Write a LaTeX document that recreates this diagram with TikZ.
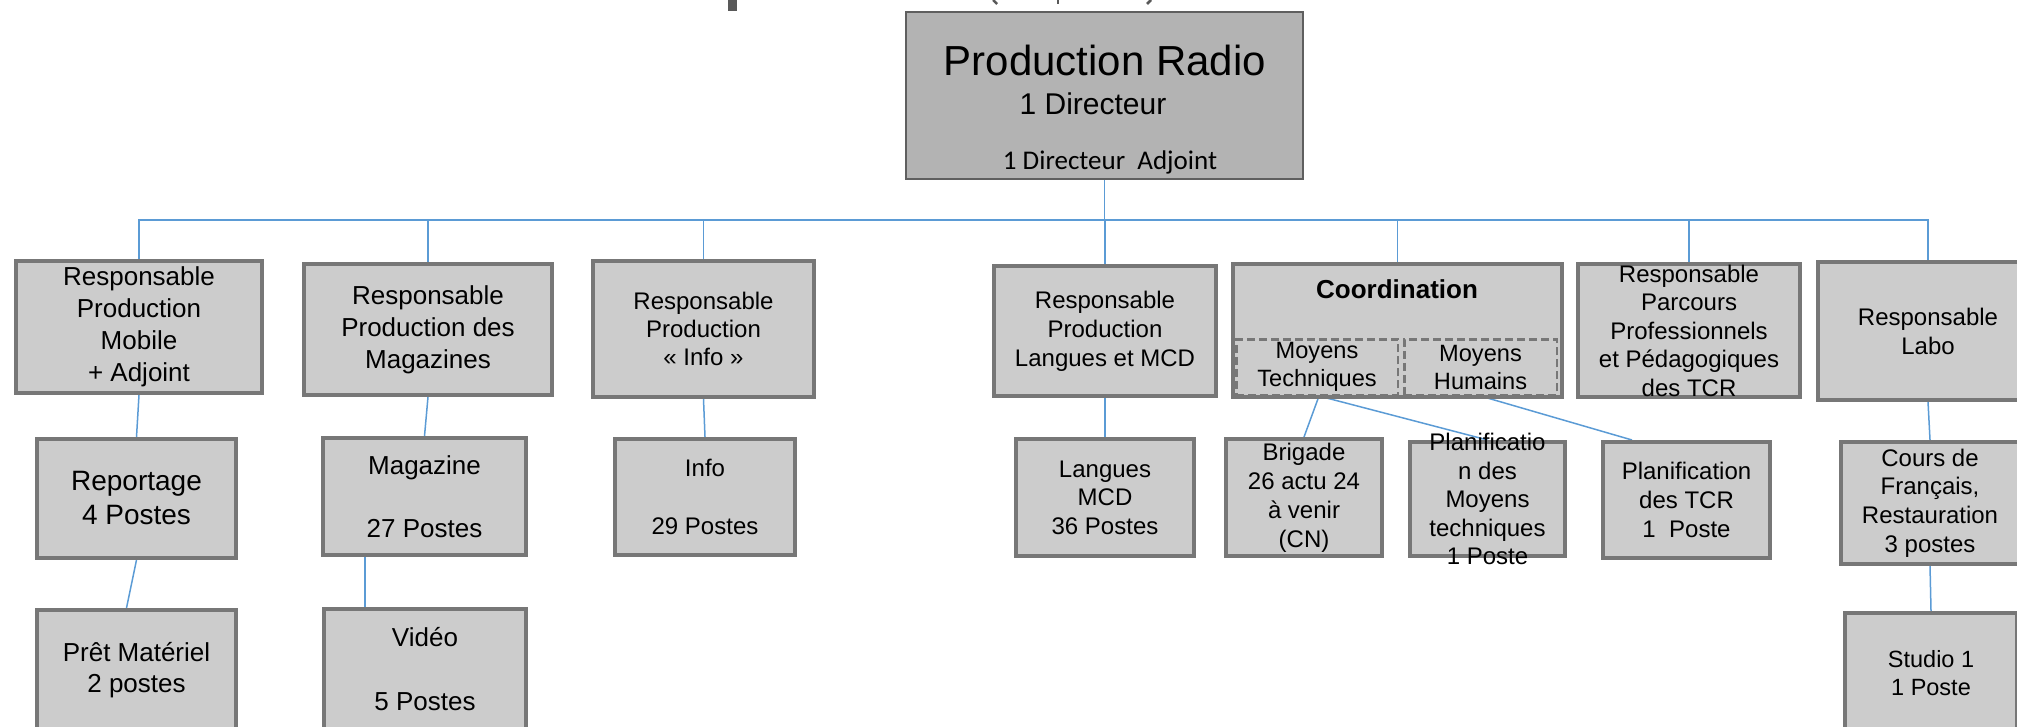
\documentclass[tikz,border=0pt]{standalone}
\usepackage{fontspec}
\setmainfont{Liberation Sans}
\newfontfamily\carlito{Carlito}
\usetikzlibrary{backgrounds}
\definecolor{boxfill}{HTML}{CCCCCC}
\definecolor{boxline}{HTML}{777777}
\definecolor{topfill}{HTML}{B3B3B3}
\definecolor{topline}{HTML}{5F5F5F}
\definecolor{connblue}{HTML}{5B9BD5}
\definecolor{titlegray}{HTML}{595959}
\newcommand\setfs[2]{\fontsize{#1}{#2}\selectfont}
\begin{document}
\begin{tikzpicture}[x=1pt,y=-1pt,
  box/.style={draw=boxline, fill=boxfill, line width=4pt, inner sep=0pt, align=center, text=black},
  dbox/.style={draw=boxline, fill=boxfill, line width=2.5pt, dash pattern=on 8pt off 4pt, inner sep=0pt, align=center},
  link/.style={draw=connblue, line width=1.5pt},
  txt/.style={inner sep=0pt, align=center, text=black},
  fA/.style={font=\setfs{26}{32}},
  fB/.style={font=\setfs{24}{28.5}},
]
\useasboundingbox (0,0) rectangle (2017,727);
\clip (0,0) rectangle (2017,727);

% fragments of a title cut off by the top edge
\fill[titlegray] (728,0) rectangle (737,11);
\draw[titlegray, line width=2.5pt] (993,0) -- (997,4);
\draw[titlegray, line width=2.5pt] (1058,0) -- (1058,4.5);
\draw[titlegray, line width=2.5pt] (1151,0) -- (1147,4);

% top box
\node[draw=topline, fill=topfill, line width=2pt, minimum width=397pt, minimum height=167pt, inner sep=0pt] (dir) at (1104.5,95.3) {};
\node[txt, font=\setfs{42}{50}, anchor=base] (dirA) at (1105,76) {Production Radio};
\node[txt, font=\setfs{30}{36}, anchor=base] (dirB) at (1093,115) {1 Directeur};
\node[txt, font=\carlito\setfs{27}{33}, anchor=base] (dirC) at (1110,170) {1 Directeur\ \ Adjoint};

% level 1
\node[box, fA, minimum width=246pt, minimum height=132pt] (b1) at (139,327) {Responsable\\Production\\Mobile\\+ Adjoint};
\node[box, fA, minimum width=248pt, minimum height=131pt] (b2) at (428,329.5) {Responsable\\Production des\\Magazines};
\node[box, font=\setfs{24}{28}, minimum width=221pt, minimum height=136pt] (b3) at (703.5,329) {Responsable\\Production\\« Info »};
\node[box, font=\setfs{24}{29}, minimum width=222pt, minimum height=130pt] (b4) at (1105,331) {Responsable\\Production\\Langues et MCD};
\node[box, minimum width=329pt, minimum height=133pt] (b5) at (1397.5,330.5) {};
\node[txt, font=\bfseries\setfs{26}{32}] (b5t) at (1397,289) {Coordination};
\node[dbox, font=\setfs{23.6}{28}, minimum width=161.5pt, minimum height=55.5pt] (mt) at (1317,367) {Moyens\\Techniques};
\node[dbox, font=\setfs{23.6}{28}, minimum width=152.5pt, minimum height=55.5pt] (mh) at (1480.5,367) {Moyens\\Humains};
\node[box, minimum width=222pt, minimum height=133pt] (b6) at (1689,330.5) {};
\node[txt, fB] (b6t) at (b6.center) {Responsable\\Parcours\\Professionnels\\et Pédagogiques\\des TCR};
\node[box, font=\setfs{24}{29}, minimum width=220pt, minimum height=138pt] (b7) at (1928,331) {Responsable\\Labo};

% level 2
\node[box, font=\setfs{28}{34}, minimum width=199pt, minimum height=119pt] (r1) at (136.5,498.5) {Reportage\\4 Postes};
\node[box, font=\setfs{26}{31.5}, minimum width=203pt, minimum height=117pt] (r2) at (424.5,496.5) {Magazine\\[31.5pt]27 Postes};
\node[box, font=\setfs{24}{29}, minimum width=180pt, minimum height=116pt] (r3) at (705,497) {Info\\[29pt]29 Postes};
\node[box, fB, minimum width=178pt, minimum height=117pt] (r4) at (1105,497.5) {Langues\\MCD\\36 Postes};
\node[box, font=\setfs{24}{29}, minimum width=156pt, minimum height=117pt] (r5) at (1304,497.5) {Brigade\\26 actu 24\\à venir\\(CN)};
\node[box, minimum width=155pt, minimum height=114pt] (r6) at (1487.5,499) {};
\node[txt, fB] (r6t) at (r6.center) {Planificatio\\n des\\Moyens\\techniques\\1 Poste};
\node[box, font=\setfs{24}{29}, minimum width=167pt, minimum height=116pt] (r7) at (1686.5,500) {Planification\\des TCR\\1\ \ Poste};
\node[box, font=\setfs{24}{28.7}, minimum width=178pt, minimum height=122pt] (r8) at (1930,503) {Cours de\\Français,\\Restauration\\3 postes};

% level 3
\node[box, font=\setfs{26}{31}, minimum width=199pt, minimum height=120pt] (s1) at (136.5,670) {Prêt Matériel\\2 postes};
\node[box, font=\setfs{26}{32}, minimum width=202pt, minimum height=121pt] (s2) at (425,669.5) {Vidéo\\[32pt]5 Postes};
\node[box, font=\setfs{23.5}{28}, minimum width=172pt, minimum height=120pt] (s3) at (1931,673) {Studio 1\\1 Poste};

% connectors
\begin{scope}[on background layer]
\coordinate (bus) at (0,220);
\draw[link] (dir.south) -- (dir.south |- bus);
\draw[link] (b1.north) -- (b1.north |- bus) -- (b7.north |- bus) -- (b7.north);
\foreach \n in {b2,b3,b4,b5,b6} \draw[link] (\n.north) -- (\n.north |- bus);
\draw[link] (b1.south) -- (r1.north);
\draw[link] (r1.south) -- ([xshift=-10pt]s1.north);
\draw[link] (b2.south) -- (r2.north);
\draw[link] ([xshift=-59.5pt]r2.south) -- ([xshift=-60pt]s2.north);
\draw[link] (b3.south) -- (r3.north);
\draw[link] (b4.south) -- (r4.north);
\draw[link] ([xshift=2pt]mt.south) -- (r5.north);
\draw[link] ([xshift=2pt]mt.south) -- (r6.north);
\draw[link] (mh.south) -- ([xshift=-54.5pt]r7.north);
\draw[link] (b7.south) -- (r8.north);
\draw[link] (r8.south) -- (s3.north);
\end{scope}
\end{tikzpicture}
\end{document}
